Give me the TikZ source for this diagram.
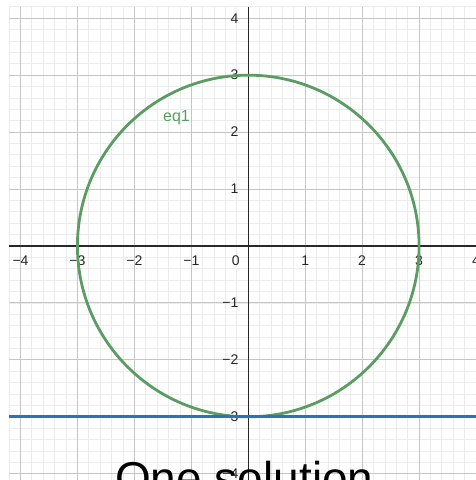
\documentclass[tikz,border=0pt]{standalone}
\usepackage{fontspec}
\setmainfont{Liberation Sans}
\usetikzlibrary{positioning}
\definecolor{eqgreen}{RGB}{90,156,98}
\definecolor{lineblue}{RGB}{45,112,190}
\definecolor{minorgrid}{RGB}{236,236,236}
\definecolor{majorgrid}{RGB}{198,198,198}
\definecolor{axisgray}{RGB}{40,40,40}

\begin{document}
\begin{tikzpicture}[x=1cm,y=1cm,
  ticklabel/.style={font=\fontsize{7}{8}\selectfont,text=black!85,inner sep=1pt}]
\useasboundingbox (-4.36,-4.11) rectangle (3.99,4.32);
\begin{scope}
  \clip (-4.2,-4.3) rectangle (4.2,4.2);
  % Grid
  \draw[minorgrid,line width=0.4pt,step=0.2] (-4.2,-4.4) grid (4.2,4.2);
  \draw[majorgrid,line width=0.5pt,step=1] (-4.2,-4.4) grid (4.2,4.2);
  % Axes
  \draw[axisgray,line width=0.7pt] (-4.2,0) -- (4.2,0);
  \draw[axisgray,line width=0.7pt] (0,-4.4) -- (0,4.2);
  % Tick labels
  \foreach \x/\t in {-4/−4,-3/−3,-2/−2,-1/−1,1/1,2/2,3/3,4/4}
    \node[ticklabel] (xt\x) at (\x,-0.25) {\t};
  \foreach \y/\t in {-4/−4,-3/−3,-2/−2,-1/−1,1/1,2/2,3/3,4/4}
    \node[ticklabel,anchor=east] (yt\y) at (-0.13,\y) {\t};
  \node[ticklabel] (zero) at (-0.22,-0.25) {0};
\end{scope}
% Curves
\draw[eqgreen,line width=1.4pt] (0,0) circle (3);
\draw[lineblue,line width=1.4pt] (-4.2,-3) -- (4.2,-3);
% Labels
\node[font=\fontsize{8}{9}\selectfont,text=eqgreen] (eqlabel) at (-1.26,2.25) {eq1};
\node[font=\fontsize{23}{26}\selectfont,anchor=base] (caption) at (-0.07,-4.37) {One solution};
\end{tikzpicture}
\end{document}
